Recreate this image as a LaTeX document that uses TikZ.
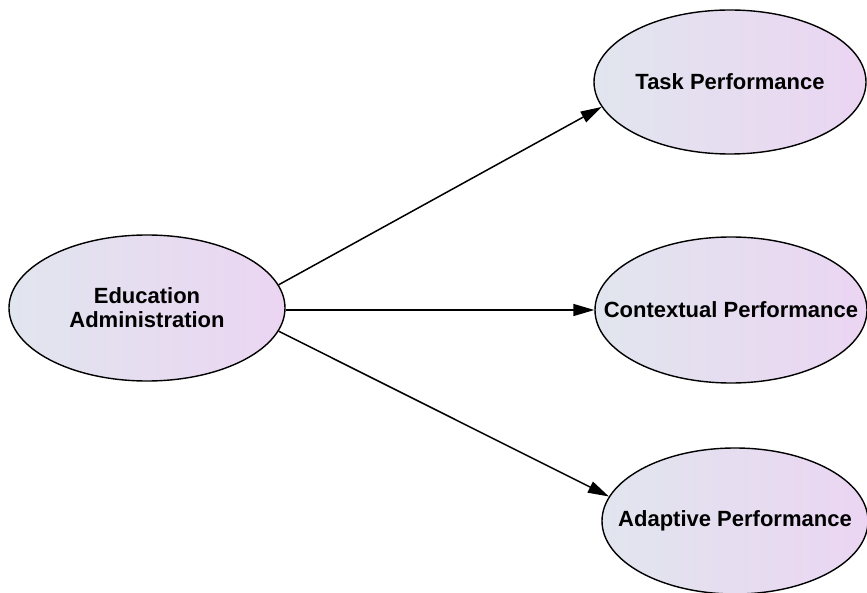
\documentclass[tikz,border=0pt]{standalone}
\usepackage{fontspec}
\setmainfont{Liberation Sans}
\usetikzlibrary{arrows.meta,shapes.geometric}
\definecolor{gleft}{HTML}{E1E5EE}
\definecolor{gright}{HTML}{EBD5F2}
\newcommand{\zw}[1]{\makebox[0pt]{#1}}
\tikzset{
  concept/.style={ellipse, draw=black, line width=1.4pt, left color=gleft, right color=gright,
    font=\fontsize{22}{24}\selectfont\bfseries, align=center, inner sep=0pt},
  link/.style={line width=1.5pt, -{Triangle[length=21pt,width=12pt]}}
}
\begin{document}
\begin{tikzpicture}[x=1pt,y=-1pt]
\useasboundingbox (0,0) rectangle (867,593);
\node[concept, minimum width=276pt, minimum height=146pt] (ea) at (147,308) {\zw{Education}\\\zw{Administration}};
\node[concept, minimum width=272pt, minimum height=144pt] (tp) at (730,82) {\zw{Task Performance}};
\node[concept, minimum width=272pt, minimum height=146pt] (cp) at (731,310) {\zw{Contextual Performance}};
\node[concept, minimum width=266pt, minimum height=146pt] (ap) at (735,521) {\zw{Adaptive Performance}};
\draw[link] (ea.10.5) -- (tp.191.3);
\draw[link] (ea.east |- cp.west) -- (cp.west);
\draw[link] (ea.-10.5) -- (ap.169.8);
\end{tikzpicture}
\end{document}
